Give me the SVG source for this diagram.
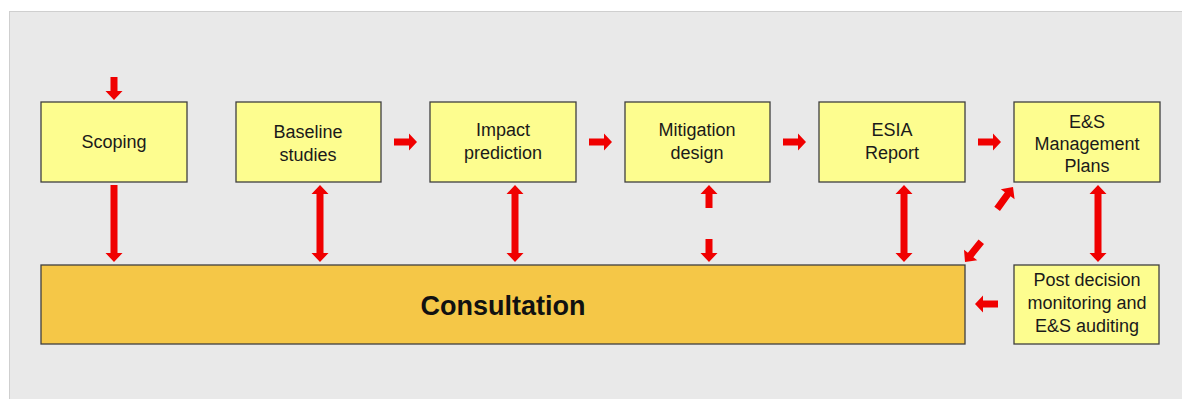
<svg xmlns="http://www.w3.org/2000/svg" width="1182" height="399" viewBox="0 0 1182 399">
<style>
.bg{fill:#e9e9e9;stroke:#cfcfcf;stroke-width:1}
.box{fill:#fdfd8f;stroke:#3f3f3f;stroke-width:1.3}
.cons{fill:#f5c747;stroke:#3f3f3f;stroke-width:1.3}
.t{font-family:"Liberation Sans",Arial,sans-serif;font-size:18px;fill:#1a1a1a;text-anchor:middle}
.tb{font-family:"Liberation Sans",Arial,sans-serif;font-size:27px;font-weight:bold;fill:#111;text-anchor:middle}
.arr{fill:#f00000;stroke:none}
</style>
<rect class="bg" x="9.5" y="11.5" width="1180" height="400"/>
<g id="scoping"><rect class="box" x="41" y="102" width="146" height="80"/><text class="t" x="114" y="148">Scoping</text></g>
<g id="baseline"><rect class="box" x="236" y="102" width="145" height="80"/><text class="t" x="308" y="138">Baseline</text><text class="t" x="308" y="161">studies</text></g>
<g id="impact"><rect class="box" x="430" y="102" width="146" height="80"/><text class="t" x="503" y="136">Impact</text><text class="t" x="503" y="159">prediction</text></g>
<g id="mitigation"><rect class="box" x="625" y="102" width="145" height="80"/><text class="t" x="697" y="136">Mitigation</text><text class="t" x="697" y="159">design</text></g>
<g id="esia"><rect class="box" x="819" y="102" width="146" height="80"/><text class="t" x="892" y="136">ESIA</text><text class="t" x="892" y="159">Report</text></g>
<g id="esmp"><rect class="box" x="1014" y="102" width="146" height="80"/><text class="t" x="1087" y="128">E&amp;S</text><text class="t" x="1087" y="150">Management</text><text class="t" x="1087" y="172">Plans</text></g>
<g id="post"><rect class="box" x="1014" y="265" width="145" height="79"/><text class="t" x="1087" y="286">Post decision</text><text class="t" x="1087" y="309">monitoring and</text><text class="t" x="1087" y="332">E&amp;S auditing</text></g>
<g id="consultation"><rect class="cons" x="41" y="265" width="924" height="79"/><text class="tb" x="503" y="315">Consultation</text></g>
<g id="connectors">
<polygon class="arr" points="110.5,77 117.5,77 117.5,91 122.5,91 114,100 105.5,91 110.5,91"/>
<polygon class="arr" points="110.5,185 117.5,185 117.5,253 122.5,253 114,262 105.5,253 110.5,253"/>
<polygon class="arr" points="320,185 328.5,194 323.5,194 323.5,253 328.5,253 320,262 311.5,253 316.5,253 316.5,194 311.5,194"/>
<polygon class="arr" points="515,185 523.5,194 518.5,194 518.5,253 523.5,253 515,262 506.5,253 511.5,253 511.5,194 506.5,194"/>
<polygon class="arr" points="709,185 717.5,194 712.5,194 712.5,208 705.5,208 705.5,194 700.5,194"/>
<polygon class="arr" points="705.5,239 712.5,239 712.5,253 717.5,253 709,262 700.5,253 705.5,253"/>
<polygon class="arr" points="904,185 912.5,194 907.5,194 907.5,253 912.5,253 904,262 895.5,253 900.5,253 900.5,194 895.5,194"/>
<polygon class="arr" points="1098,185 1106.5,194 1101.5,194 1101.5,253 1106.5,253 1098,262 1089.5,253 1094.5,253 1094.5,194 1089.5,194"/>
<polygon class="arr" points="394,138.5 409,138.5 409,133.5 417,142 409,150.5 409,145.5 394,145.5"/>
<polygon class="arr" points="589,138.5 604,138.5 604,133.5 612,142 604,150.5 604,145.5 589,145.5"/>
<polygon class="arr" points="783,138.5 798,138.5 798,133.5 806,142 798,150.5 798,145.5 783,145.5"/>
<polygon class="arr" points="978,138.5 993,138.5 993,133.5 1001,142 993,150.5 993,145.5 978,145.5"/>
<polygon class="arr" points="998,300.5 983,300.5 983,295.5 975,304 983,312.5 983,307.5 998,307.5"/>
<polygon class="arr" transform="translate(965,262) rotate(128.7)" points="0,0 -9,-8.5 -9,-3.5 -26,-3.5 -26,3.5 -9,3.5 -9,8.5"/>
<polygon class="arr" transform="translate(1013,187) rotate(-54)" points="0,0 -9,-8.5 -9,-3.5 -27,-3.5 -27,3.5 -9,3.5 -9,8.5"/>
</g>
</svg>
